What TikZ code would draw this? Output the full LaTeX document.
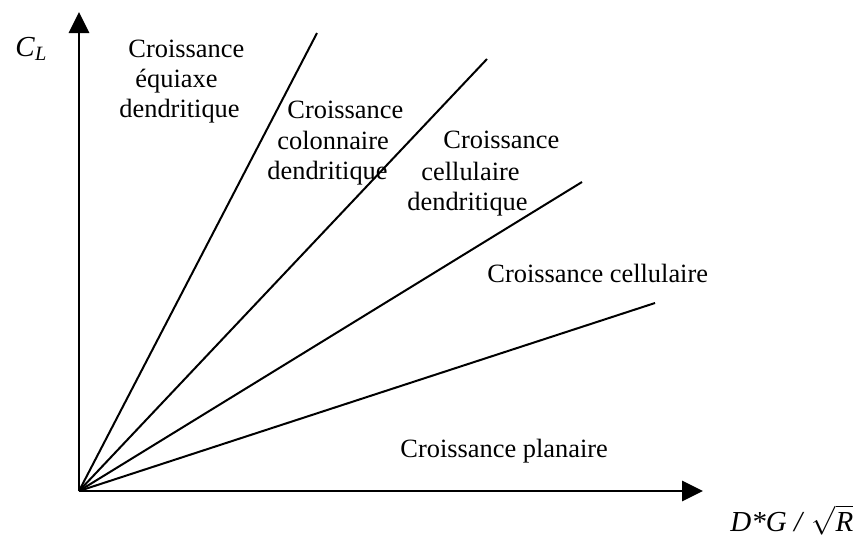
\documentclass[tikz,border=0pt]{standalone}
\usepackage{fontspec}
\setmainfont{Liberation Serif}
\usetikzlibrary{arrows.meta}
\begin{document}
\begin{tikzpicture}[x=0.5pt,y=-0.5pt,
  lbl/.style={anchor=base west,inner sep=0pt,font=\fontsize{13.2}{15.25}\selectfont},
  axlbl/.style={anchor=base west,inner sep=0pt,font=\fontsize{14.5}{17}\selectfont},
  axisline/.style={line width=1.4pt,-{Triangle[length=10.5pt,width=10pt]}},
  boundary/.style={line width=1pt}]
\useasboundingbox (0,0) rectangle (856,542);
% origin and ends of the regime boundaries
\coordinate (O) at (79,491);
\coordinate (ytip) at (79,12);
\coordinate (xtip) at (703,491);
\coordinate (b1) at (317,33);
\coordinate (b2) at (487,59);
\coordinate (b3) at (582,182);
\coordinate (b4) at (655,303);
% axes
\draw[axisline] (O) -- (ytip);
\draw[axisline] (O) -- (xtip);
% regime boundaries
\draw[boundary] (O) -- (b1);
\draw[boundary] (O) -- (b2);
\draw[boundary] (O) -- (b3);
\draw[boundary] (O) -- (b4);
% axis labels
\node[axlbl] (ylab) at (15,56) {\textit{C}\textsubscript{\textit{L}}};
\node[axlbl] (xlab) at (730,531) {\textit{D*G / }$\sqrt{\mbox{\itshape R}}$};
% regime labels
\node[lbl] (e1) at (128,57) {Croissance};
\node[lbl] (e2) at (135,87) {équiaxe};
\node[lbl] (e3) at (119,117) {dendritique};
\node[lbl] (c1) at (287,118) {Croissance};
\node[lbl] (c2) at (277,149) {colonnaire};
\node[lbl] (c3) at (267,179) {dendritique};
\node[lbl] (d1) at (443,148) {Croissance};
\node[lbl] (d2) at (421,180) {cellulaire};
\node[lbl] (d3) at (407,210) {dendritique};
\node[lbl] (cc) at (487,282) {Croissance cellulaire};
\node[lbl] (pl) at (400,457) {Croissance planaire};
\end{tikzpicture}
\end{document}
